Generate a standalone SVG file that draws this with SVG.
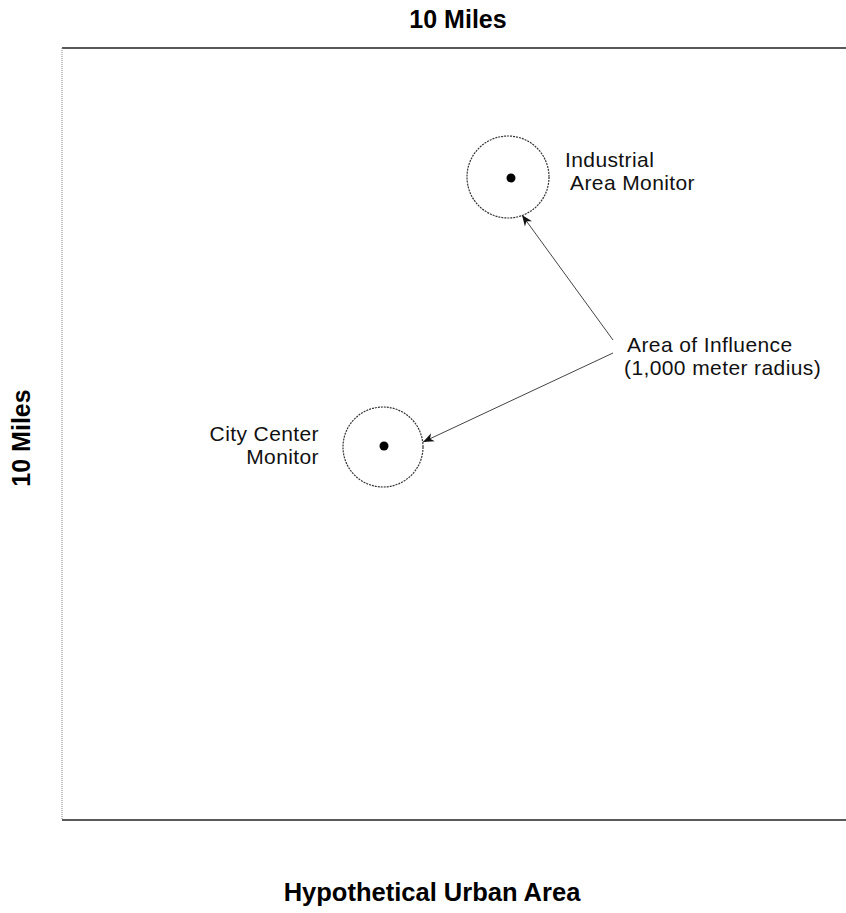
<svg xmlns="http://www.w3.org/2000/svg" width="846" height="913" viewBox="0 0 846 913">
<style>
.lbl{font-family:"Liberation Sans",Arial,sans-serif;font-size:21px;fill:#111;letter-spacing:0.4px}
.ttl{font-family:"Liberation Sans",Arial,sans-serif;font-weight:bold;font-size:25px;fill:#000}
.ring{fill:none;stroke:#333;stroke-width:1.2;stroke-dasharray:2 1}
.conn{stroke:#444;stroke-width:1;fill:none}
</style>
<defs>
<marker id="ah" viewBox="0 0 10 10" refX="10" refY="5" markerWidth="11" markerHeight="11" markerUnits="userSpaceOnUse" orient="auto">
<path d="M0,1 L10,5 L0,9 L3,5 z" fill="#111"/>
</marker>
</defs>
<rect width="846" height="913" fill="#fff"/>
<g id="frame">
<line x1="62" y1="48" x2="846" y2="48" stroke="#222" stroke-width="1.3"/>
<line x1="62" y1="820" x2="846" y2="820" stroke="#222" stroke-width="1.3"/>
<line x1="62" y1="48" x2="62" y2="820" stroke="#888" stroke-width="1" stroke-dasharray="1 1"/>
</g>
<g id="titles">
<text class="ttl" x="458" y="28" text-anchor="middle">10 Miles</text>
<text class="ttl" x="432" y="901" text-anchor="middle" style="font-size:25.5px">Hypothetical Urban Area</text>
<text class="ttl" transform="translate(30,438) rotate(-90)" text-anchor="middle">10 Miles</text>
</g>
<g id="industrial">
<circle class="ring" cx="508" cy="177" r="41"/>
<circle cx="511" cy="178" r="4.5" fill="#000"/>
<text class="lbl" x="565" y="167">Industrial</text>
<text class="lbl" x="570" y="190">Area Monitor</text>
</g>
<g id="city">
<circle class="ring" cx="383" cy="447" r="40"/>
<circle cx="384" cy="446" r="4.5" fill="#000"/>
<text class="lbl" x="319" y="441" text-anchor="end">City Center</text>
<text class="lbl" x="319" y="464" text-anchor="end">Monitor</text>
</g>
<g id="influence">
<text class="lbl" x="627" y="352">Area of Influence</text>
<text class="lbl" x="624" y="375">(1,000 meter radius)</text>
</g>
<g id="connectors">
<line class="conn" x1="613" y1="340" x2="522" y2="215" marker-end="url(#ah)"/>
<line class="conn" x1="613" y1="353" x2="423" y2="442" marker-end="url(#ah)"/>
</g>
</svg>
